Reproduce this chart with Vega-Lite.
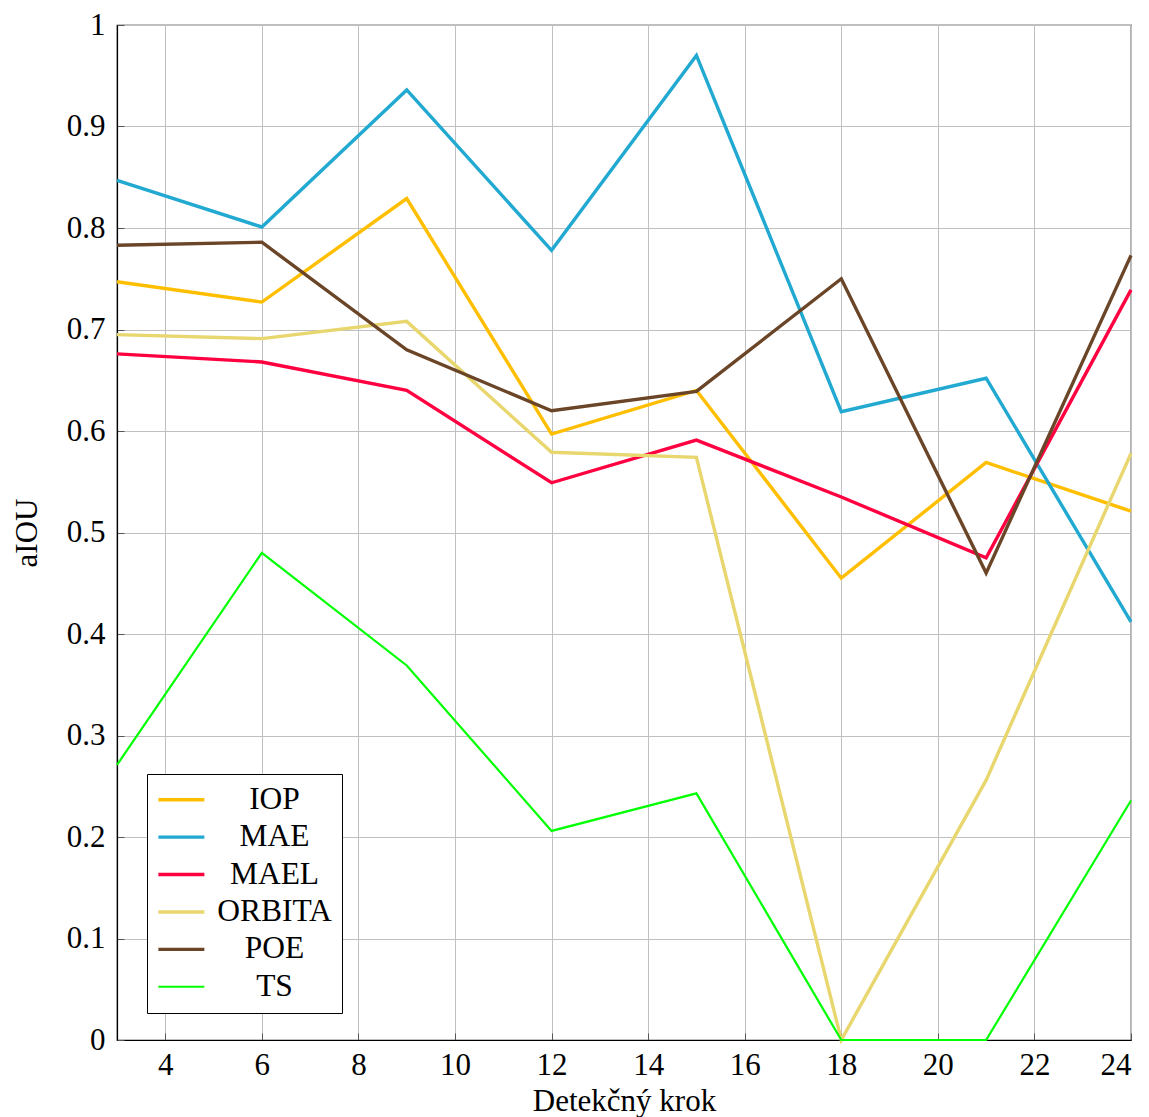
{
  "$schema": "https://vega.github.io/schema/vega-lite/v6.json",
  "width": 1014,
  "height": 1015,
  "autosize": {"type": "none"},
  "padding": {"left": 117, "top": 25, "right": 18, "bottom": 77},
  "background": "white",
  "config": {
    "font": "Liberation Serif",
    "view": {"stroke": "#000000", "strokeWidth": 1.2},
    "axis": {
      "labelFont": "Liberation Serif",
      "titleFont": "Liberation Serif",
      "labelFontSize": 31,
      "titleFontSize": 31,
      "titleFontWeight": "normal",
      "labelColor": "#000000",
      "titleColor": "#000000",
      "gridColor": "#c0c0c0",
      "gridWidth": 1,
      "gridOpacity": 1,
      "domainColor": "#000000",
      "domainWidth": 1.2,
      "tickColor": "#555555",
      "tickSize": -7,
      "tickWidth": 1
    }
  },
  "data": {
    "values": [
      {"krok": 3, "metoda": "IOP", "aIOU": 0.747},
      {"krok": 6, "metoda": "IOP", "aIOU": 0.727},
      {"krok": 9, "metoda": "IOP", "aIOU": 0.829},
      {"krok": 12, "metoda": "IOP", "aIOU": 0.597},
      {"krok": 15, "metoda": "IOP", "aIOU": 0.640},
      {"krok": 18, "metoda": "IOP", "aIOU": 0.455},
      {"krok": 21, "metoda": "IOP", "aIOU": 0.569},
      {"krok": 24, "metoda": "IOP", "aIOU": 0.521},
      {"krok": 3, "metoda": "MAE", "aIOU": 0.847},
      {"krok": 6, "metoda": "MAE", "aIOU": 0.801},
      {"krok": 9, "metoda": "MAE", "aIOU": 0.936},
      {"krok": 12, "metoda": "MAE", "aIOU": 0.778},
      {"krok": 15, "metoda": "MAE", "aIOU": 0.970},
      {"krok": 18, "metoda": "MAE", "aIOU": 0.619},
      {"krok": 21, "metoda": "MAE", "aIOU": 0.652},
      {"krok": 24, "metoda": "MAE", "aIOU": 0.412},
      {"krok": 3, "metoda": "MAEL", "aIOU": 0.676},
      {"krok": 6, "metoda": "MAEL", "aIOU": 0.668},
      {"krok": 9, "metoda": "MAEL", "aIOU": 0.640},
      {"krok": 12, "metoda": "MAEL", "aIOU": 0.549},
      {"krok": 15, "metoda": "MAEL", "aIOU": 0.591},
      {"krok": 18, "metoda": "MAEL", "aIOU": 0.535},
      {"krok": 21, "metoda": "MAEL", "aIOU": 0.475},
      {"krok": 24, "metoda": "MAEL", "aIOU": 0.739},
      {"krok": 3, "metoda": "ORBITA", "aIOU": 0.695},
      {"krok": 6, "metoda": "ORBITA", "aIOU": 0.691},
      {"krok": 9, "metoda": "ORBITA", "aIOU": 0.708},
      {"krok": 12, "metoda": "ORBITA", "aIOU": 0.579},
      {"krok": 15, "metoda": "ORBITA", "aIOU": 0.574},
      {"krok": 18, "metoda": "ORBITA", "aIOU": 0.0},
      {"krok": 21, "metoda": "ORBITA", "aIOU": 0.256},
      {"krok": 24, "metoda": "ORBITA", "aIOU": 0.578},
      {"krok": 3, "metoda": "POE", "aIOU": 0.783},
      {"krok": 6, "metoda": "POE", "aIOU": 0.786},
      {"krok": 9, "metoda": "POE", "aIOU": 0.680},
      {"krok": 12, "metoda": "POE", "aIOU": 0.620},
      {"krok": 15, "metoda": "POE", "aIOU": 0.639},
      {"krok": 18, "metoda": "POE", "aIOU": 0.750},
      {"krok": 21, "metoda": "POE", "aIOU": 0.460},
      {"krok": 24, "metoda": "POE", "aIOU": 0.773},
      {"krok": 3, "metoda": "TS", "aIOU": 0.271},
      {"krok": 6, "metoda": "TS", "aIOU": 0.480},
      {"krok": 9, "metoda": "TS", "aIOU": 0.369},
      {"krok": 12, "metoda": "TS", "aIOU": 0.206},
      {"krok": 15, "metoda": "TS", "aIOU": 0.243},
      {"krok": 18, "metoda": "TS", "aIOU": 0.0},
      {"krok": 21, "metoda": "TS", "aIOU": 0.0},
      {"krok": 24, "metoda": "TS", "aIOU": 0.236}
    ]
  },
  "mark": {"type": "line", "strokeJoin": "miter"},
  "encoding": {
    "x": {
      "field": "krok",
      "type": "quantitative",
      "scale": {"domain": [3, 24], "nice": false, "zero": false},
      "axis": {
        "title": "Detekčný krok",
        "values": [4, 6, 8, 10, 12, 14, 16, 18, 20, 22, 24],
        "labelPadding": 17,
        "titlePadding": 6
      }
    },
    "y": {
      "field": "aIOU",
      "type": "quantitative",
      "scale": {"domain": [0, 1], "nice": false},
      "axis": {
        "title": "aIOU",
        "values": [0, 0.1, 0.2, 0.3, 0.4, 0.5, 0.6, 0.7, 0.8, 0.9, 1],
        "format": "~g",
        "labelPadding": 19,
        "titlePadding": 23
      }
    },
    "color": {
      "field": "metoda",
      "type": "nominal",
      "scale": {
        "domain": ["IOP", "MAE", "MAEL", "ORBITA", "POE", "TS"],
        "range": ["#FFBF00", "#21A9D1", "#FF0040", "#E8D66E", "#6A4527", "#00FF00"]
      },
      "legend": {
        "title": null,
        "orient": "none",
        "legendX": 30,
        "legendY": 749,
        "padding": 10,
        "rowPadding": 4.4,
        "symbolType": "M-1.25,0H2.75",
        "symbolSize": 529,
        "symbolStrokeWidth": 3.4,
        "symbolOffset": 0,
        "labelAlign": "center",
        "labelOffset": 86,
        "labelFont": "Liberation Serif",
        "labelFontSize": 31.5,
        "labelColor": "#000000",
        "labelLimit": 300,
        "strokeColor": "#000000",
        "fillColor": "#ffffff"
      }
    },
    "strokeWidth": {
      "field": "metoda",
      "type": "nominal",
      "scale": {
        "type": "ordinal",
        "domain": ["IOP", "MAE", "MAEL", "ORBITA", "POE", "TS"],
        "range": [3.4, 3.4, 3.4, 3.4, 3.4, 2.2]
      },
      "legend": null
    }
  }
}
